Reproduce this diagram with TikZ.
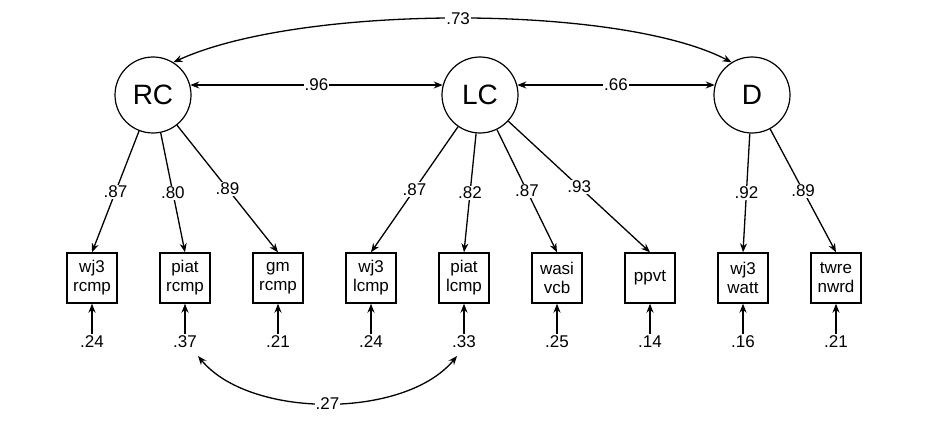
\documentclass[tikz,border=0pt]{standalone}
\usepackage{fontspec}
\setmainfont{Liberation Sans}
\usetikzlibrary{arrows.meta}
\begin{document}
\begin{tikzpicture}[x=1pt,y=1pt,
  lat/.style={draw,circle,minimum size=76pt,inner sep=0pt,font=\fontsize{28}{30}\selectfont,line width=1.2pt},
  obs/.style={draw,minimum width=50pt,minimum height=50pt,inner sep=0pt,align=center,font=\fontsize{17}{19}\selectfont,line width=1.4pt},
  err/.style={inner sep=2pt,font=\fontsize{17}{19}\selectfont},
  lab/.style={fill=white,inner sep=1pt,font=\fontsize{17}{19}\selectfont},
  arr/.style={-{Stealth[length=9pt,width=7pt]},line width=1.3pt},
  darr/.style={{Stealth[length=9pt,width=7pt]}-{Stealth[length=9pt,width=7pt]},line width=1.3pt}]
\useasboundingbox (0,0) rectangle (937,424);
\node[lat] (RC) at (153,329) {RC};
\node[lat] (LC) at (480,329) {LC};
\node[lat] (D) at (752,329) {D};
\foreach \n/\x/\t/\e in {b1/92/wj3\\rcmp/.24, b2/185/piat\\rcmp/.37, b3/278/gm\\rcmp/.21,
  b4/371/wj3\\lcmp/.24, b5/464/piat\\lcmp/.33, b6/557/wasi\\vcb/.25, b7/650/ppvt/.14,
  b8/743/wj3\\watt/.16, b9/836/twre\\nwrd/.21}{
  \node[obs] (\n) at (\x,146) {\t};
  \node[err] (e\n) at (\x,82) {\e};
  \draw[arr] (e\n.north) -- (\n.south);
}
\draw[arr] (RC) -- node[lab,pos=0.5]{.87} (b1.north);
\draw[arr] (RC) -- node[lab,pos=0.5]{.80} (b2.north);
\draw[arr] (RC) -- node[lab,pos=0.5]{.89} (b3.north);
\draw[arr] (LC) -- node[lab,pos=0.5]{.87} (b4.north);
\draw[arr] (LC) -- node[lab,pos=0.5]{.82} (b5.north);
\draw[arr] (LC) -- node[lab,pos=0.5]{.87} (b6.north);
\draw[arr] (LC) -- node[lab,pos=0.5]{.93} (b7.north);
\draw[arr] (D) -- node[lab,pos=0.5]{.92} (b8.north);
\draw[arr] (D) -- node[lab,pos=0.5]{.89} (b9.north);
\draw[darr] (RC.15) -- node[lab]{.96} (LC.165);
\draw[darr] (LC.15) -- node[lab]{.66} (D.165);
\draw[darr] (RC.58) .. controls (300,420) and (620,420) .. node[lab]{.73} (D.122);
\coordinate (s1) at (198,68);
\coordinate (s2) at (457,68);
\draw[darr] (s1) .. controls (250,5) and (405,5) .. node[lab]{.27} (s2);
\end{tikzpicture}
\end{document}
